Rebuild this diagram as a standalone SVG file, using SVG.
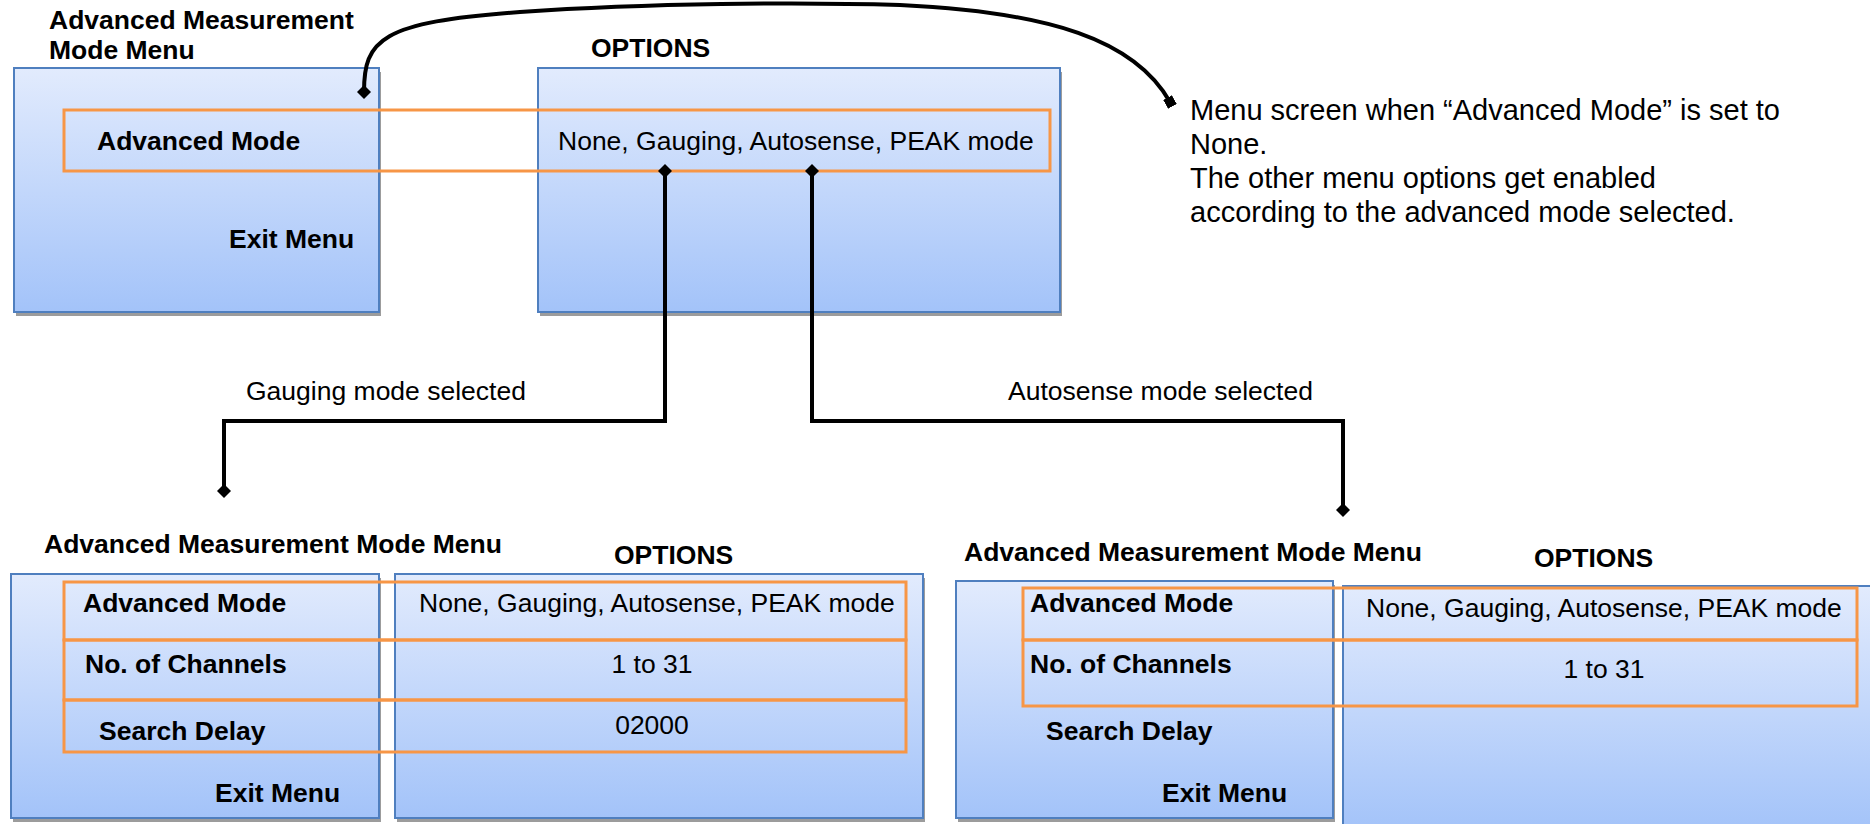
<svg xmlns="http://www.w3.org/2000/svg" width="1870" height="824" viewBox="0 0 1870 824">
  <defs>
    <linearGradient id="panelFill" x1="0" y1="0" x2="0" y2="1">
      <stop offset="0" stop-color="#e2ebfd"/>
      <stop offset="1" stop-color="#a3c3f9"/>
    </linearGradient>
    <marker id="diamond" viewBox="0 0 14 14" refX="7" refY="7" markerWidth="14" markerHeight="14" markerUnits="userSpaceOnUse" orient="auto">
      <path d="M0,7 L7,0 L14,7 L7,14 Z" fill="#000"/>
    </marker>
    <marker id="square" viewBox="0 0 10 10" refX="5" refY="5" markerWidth="10" markerHeight="10" markerUnits="userSpaceOnUse" orient="auto">
      <rect x="0" y="0" width="10" height="10" fill="#000"/>
    </marker>
  </defs>
  <style>
    .shadow { fill: #9c9c9c; }
    .panel { fill: url(#panelFill); stroke: #4f7fbf; stroke-width: 2; }
    .row { fill: none; stroke: #f79646; stroke-width: 3; }
    .b { font-family: "Liberation Sans", Arial, sans-serif; font-weight: bold; font-size: 26.5px; fill: #000; }
    .r { font-family: "Liberation Sans", Arial, sans-serif; font-size: 26.5px; fill: #000; }
    .note { font-family: "Liberation Sans", Arial, sans-serif; font-size: 29px; fill: #000; }
    .wire { fill: none; stroke: #000; stroke-width: 4; }
  </style>
  <rect width="1870" height="824" fill="#fff"/>

  <!-- Top: menu with Advanced Mode = None -->
  <g id="top-menu">
    <text class="b" x="49" y="29">Advanced Measurement</text>
    <text class="b" x="49" y="59">Mode Menu</text>
    <rect class="shadow" x="16" y="72" width="365" height="244"/>
    <rect class="panel" x="14" y="68" width="365" height="244"/>
    <text class="b" x="97" y="150">Advanced Mode</text>
    <text class="b" x="229" y="248">Exit Menu</text>
  </g>
  <g id="top-options">
    <text class="b" x="591" y="57">OPTIONS</text>
    <rect class="shadow" x="540" y="72" width="522" height="244"/>
    <rect class="panel" x="538" y="68" width="522" height="244"/>
    <text class="r" x="558" y="150">None, Gauging, Autosense, PEAK mode</text>
  </g>
  <g id="top-highlight">
    <rect class="row" x="64" y="110" width="986" height="61"/>
  </g>

  <g id="note">
    <text class="note" x="1190" y="120">Menu screen when “Advanced Mode” is set to</text>
    <text class="note" x="1190" y="154">None.</text>
    <text class="note" x="1190" y="188">The other menu options get enabled</text>
    <text class="note" x="1190" y="222">according to the advanced mode selected.</text>
  </g>

  <!-- Bottom left: Gauging mode -->
  <g id="gauging-menu">
    <text class="b" x="44" y="553">Advanced Measurement Mode Menu</text>
    <rect class="shadow" x="13" y="578" width="368" height="244"/>
    <rect class="panel" x="11" y="574" width="368" height="244"/>
    <text class="b" x="83" y="612">Advanced Mode</text>
    <text class="b" x="85" y="673">No. of Channels</text>
    <text class="b" x="99" y="740">Search Delay</text>
    <text class="b" x="215" y="802">Exit Menu</text>
  </g>
  <g id="gauging-options">
    <text class="b" x="614" y="564">OPTIONS</text>
    <rect class="shadow" x="397" y="578" width="528" height="244"/>
    <rect class="panel" x="395" y="574" width="528" height="244"/>
    <text class="r" x="419" y="612">None, Gauging, Autosense, PEAK mode</text>
    <text class="r" x="652" y="673" text-anchor="middle">1 to 31</text>
    <text class="r" x="652" y="734" text-anchor="middle">02000</text>
  </g>
  <g id="gauging-highlight">
    <rect class="row" x="64" y="582" width="842" height="58"/>
    <rect class="row" x="64" y="640" width="842" height="60"/>
    <rect class="row" x="64" y="700" width="842" height="52"/>
  </g>

  <!-- Bottom right: Autosense mode -->
  <g id="autosense-menu">
    <text class="b" x="964" y="561">Advanced Measurement Mode Menu</text>
    <rect class="shadow" x="958" y="585" width="377" height="237"/>
    <rect class="panel" x="956" y="581" width="377" height="237"/>
    <text class="b" x="1030" y="612">Advanced Mode</text>
    <text class="b" x="1030" y="673">No. of Channels</text>
    <text class="b" x="1046" y="740">Search Delay</text>
    <text class="b" x="1162" y="802">Exit Menu</text>
  </g>
  <g id="autosense-options">
    <text class="b" x="1534" y="567">OPTIONS</text>
    <rect class="panel" x="1343" y="586" width="540" height="245"/>
    <text class="r" x="1366" y="617">None, Gauging, Autosense, PEAK mode</text>
    <text class="r" x="1604" y="678" text-anchor="middle">1 to 31</text>
  </g>
  <g id="autosense-highlight">
    <rect class="row" x="1023" y="588" width="834" height="52"/>
    <rect class="row" x="1023" y="640" width="834" height="66"/>
  </g>

  <!-- Connectors -->
  <g id="connectors">
    <path class="wire" d="M364,92 C364,40 380,22 520,12 C650,3 800,2 900,5 C1050,12 1135,40 1170,102" marker-start="url(#diamond)" marker-end="url(#square)"/>
    <path class="wire" d="M665,171 V421 H224 V491" marker-start="url(#diamond)" marker-end="url(#diamond)"/>
    <path class="wire" d="M812,171 V421 H1343 V510" marker-start="url(#diamond)" marker-end="url(#diamond)"/>
    <text class="r" x="246" y="400">Gauging mode selected</text>
    <text class="r" x="1008" y="400">Autosense mode selected</text>
  </g>
</svg>
